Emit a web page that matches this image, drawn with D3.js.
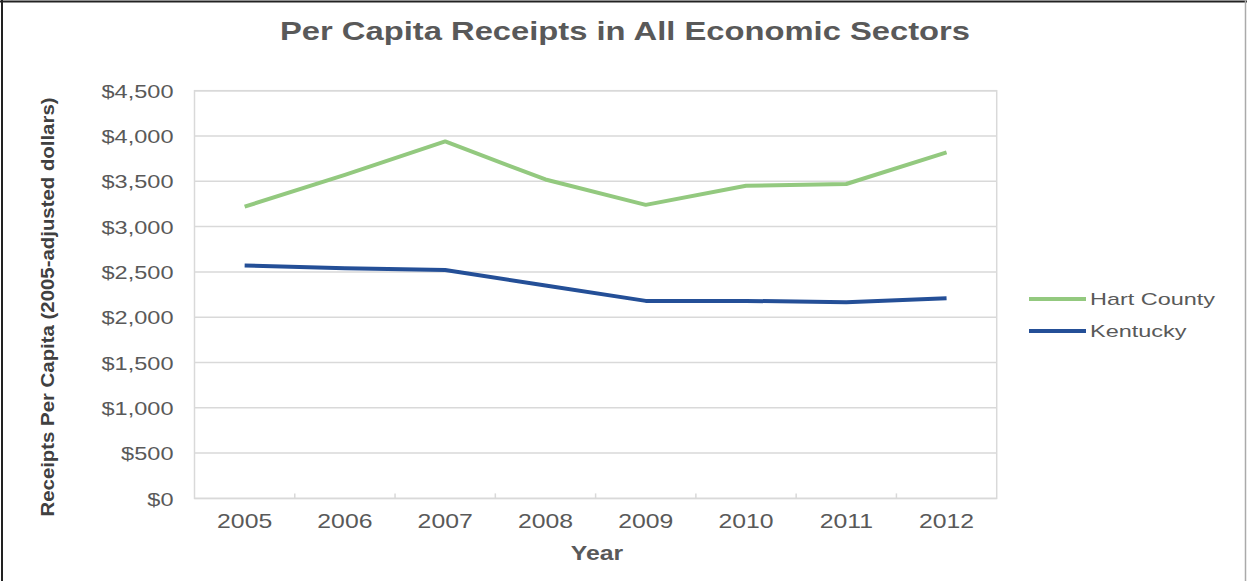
<!DOCTYPE html>
<html>
<head>
<meta charset="utf-8">
<script src="https://cdn.jsdelivr.net/npm/d3@7"></script>
<style>
  body { margin: 0; background: #fff; }
  text { font-family: "Liberation Sans", Arial, sans-serif; fill: #595959; }
</style>
</head>
<body>
<div id="chart"></div>
<script>
const years = ["2005", "2006", "2007", "2008", "2009", "2010", "2011", "2012"];
const hartCounty = [3220, 3570, 3940, 3520, 3240, 3450, 3470, 3820];
const kentucky = [2570, 2540, 2520, 2350, 2180, 2180, 2165, 2210];
const yTicks = [0, 500, 1000, 1500, 2000, 2500, 3000, 3500, 4000, 4500];

const series = [
    { name: "Hart County", values: hartCounty, color: "#93c97f" },
    { name: "Kentucky", values: kentucky, color: "#244f97" }
];

const W = 1247, H = 581;
const margin = { top: 90.7, right: 250.3, bottom: 82.6, left: 194.5 };
const width = W - margin.left - margin.right;
const height = H - margin.top - margin.bottom;
const stretch = 1.24;

const svg = d3.select("#chart").append("svg")
    .attr("width", W)
    .attr("height", H);

// outer frame
svg.append("line").attr("x1", 0).attr("x2", W).attr("y1", 1.5).attr("y2", 1.5)
    .attr("stroke", "#222").attr("stroke-width", 2);
svg.append("line").attr("x1", 2).attr("x2", 2).attr("y1", 0).attr("y2", H)
    .attr("stroke", "#222").attr("stroke-width", 2);
svg.append("line").attr("x1", W - 1.5).attr("x2", W - 1.5).attr("y1", 0).attr("y2", H)
    .attr("stroke", "#aaa").attr("stroke-width", 1.5);

const g = svg.append("g")
    .attr("transform", `translate(${margin.left}, ${margin.top})`);

const x = d3.scaleBand().domain(years).range([0, width]).padding(0);
const y = d3.scaleLinear().domain([0, 4500]).range([height, 0]);

// gridlines
g.append("g")
    .selectAll("line")
    .data(yTicks)
    .join("line")
    .attr("x1", 0)
    .attr("x2", width)
    .attr("y1", d => y(d))
    .attr("y2", d => y(d))
    .attr("stroke", "#d9d9d9")
    .attr("stroke-width", 1.5);

// plot border
g.append("rect")
    .attr("width", width)
    .attr("height", height)
    .attr("fill", "none")
    .attr("stroke", "#d9d9d9")
    .attr("stroke-width", 1.5);

// y axis labels
const yAxis = g.append("g")
    .call(d3.axisLeft(y).tickValues(yTicks).tickSize(0).tickPadding(0)
        .tickFormat(d => "$" + d3.format(",")(d)));
yAxis.select(".domain").remove();
yAxis.selectAll("text")
    .attr("x", 0)
    .attr("dy", "0.35em")
    .attr("transform", `translate(-21, 0) scale(${stretch}, 1)`)
    .style("font-size", "19px")
    .style("font-family", "Liberation Sans, Arial, sans-serif")
    .style("fill", "#595959");

// x axis labels
const xAxis = g.append("g")
    .attr("transform", `translate(0, ${height})`)
    .call(d3.axisBottom(x).tickSize(0).tickPadding(0));
xAxis.select(".domain").remove();
xAxis.selectAll("text")
    .attr("y", 0)
    .attr("dy", 0)
    .attr("transform", `translate(0, 30) scale(${stretch}, 1)`)
    .style("font-size", "20px")
    .style("font-family", "Liberation Sans, Arial, sans-serif")
    .style("fill", "#595959");

// category boundary ticks
g.append("g")
    .selectAll("line")
    .data(years.slice(1))
    .join("line")
    .attr("x1", d => x(d))
    .attr("x2", d => x(d))
    .attr("y1", height)
    .attr("y2", height - 5)
    .attr("stroke", "#d9d9d9")
    .attr("stroke-width", 1.5);

// lines
const line = d3.line()
    .x((d, i) => x(years[i]) + x.bandwidth() / 2)
    .y(d => y(d));

g.selectAll(".series")
    .data(series)
    .join("path")
    .attr("class", "series")
    .attr("fill", "none")
    .attr("stroke", d => d.color)
    .attr("stroke-width", 4)
    .attr("stroke-linejoin", "round")
    .attr("d", d => line(d.values));

// title
svg.append("text")
    .attr("x", 625)
    .attr("y", 40)
    .attr("text-anchor", "middle")
    .attr("textLength", 690)
    .attr("lengthAdjust", "spacingAndGlyphs")
    .style("font-size", "25px")
    .style("font-weight", "bold")
    .text("Per Capita Receipts in All Economic Sectors");

// x axis title
svg.append("text")
    .attr("transform", `translate(597, 560) scale(${stretch}, 1)`)
    .attr("text-anchor", "middle")
    .style("font-size", "20px")
    .style("font-weight", "bold")
    .text("Year");

// y axis title
svg.append("text")
    .attr("transform", "translate(54, 307) rotate(-90)")
    .attr("text-anchor", "middle")
    .attr("textLength", 419)
    .attr("lengthAdjust", "spacingAndGlyphs")
    .style("font-size", "19px")
    .style("font-weight", "bold")
    .style("fill", "#404040")
    .text("Receipts Per Capita (2005-adjusted dollars)");

// legend
const legend = svg.append("g")
    .attr("transform", "translate(1029, 299)");

const legendItem = legend.selectAll("g")
    .data(series)
    .join("g")
    .attr("transform", (d, i) => `translate(0, ${i * 32})`);

legendItem.append("line")
    .attr("x1", 0)
    .attr("x2", 57)
    .attr("stroke", d => d.color)
    .attr("stroke-width", 4);

legendItem.append("text")
    .attr("transform", `translate(61, 6) scale(1.38, 1)`)
    .style("font-size", "17px")
    .text(d => d.name);
</script>
</body>
</html>
